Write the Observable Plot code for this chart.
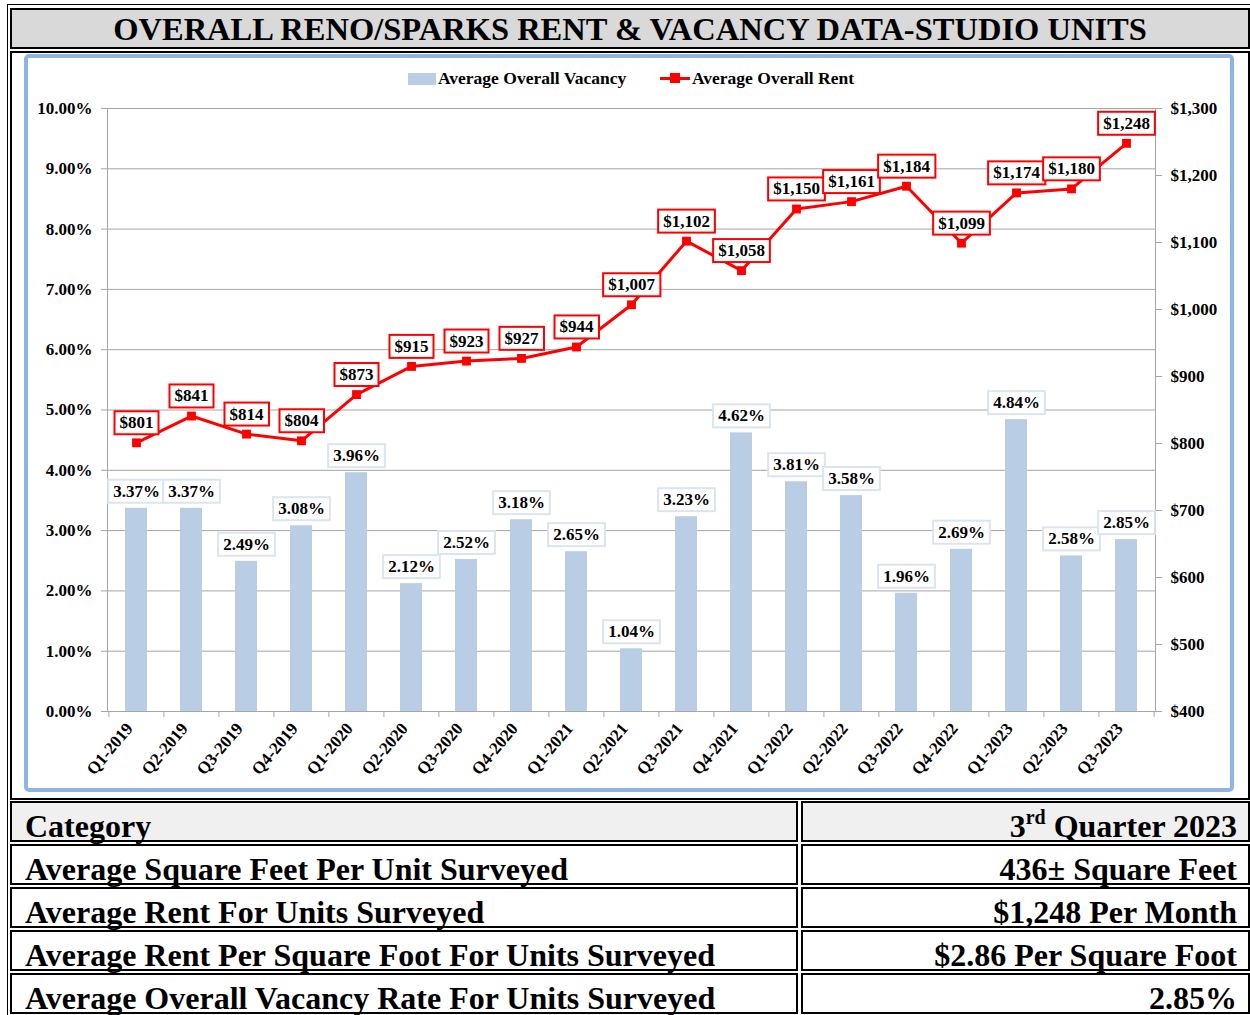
<!DOCTYPE html>
<html><head><meta charset="utf-8">
<script src="https://cdn.jsdelivr.net/npm/d3@7"></script>
<script src="https://cdn.jsdelivr.net/npm/@observablehq/plot@0.6"></script>
<style>
body{margin:0;background:#fff;font-family:"Liberation Serif","Times New Roman",serif;font-weight:bold;color:#000;}
.abs{position:absolute;box-sizing:border-box;}
#table{display:grid;grid-template-columns:788px 449px;column-gap:3px;row-gap:2px;}
#table div{box-sizing:border-box;height:41px;border:2.5px solid #000;font-size:32px;line-height:32px;padding-top:6.5px;white-space:nowrap;}
#table .l{padding-left:13px;text-align:left;}
#table .r{padding-right:11px;text-align:right;}
#table .h{background:#f0f0f0;}
sup{font-size:20px;vertical-align:top;line-height:20px;position:relative;top:-3px;}
</style></head><body>
<div class="abs" style="left:7px;top:4px;width:1250px;height:1020px;border:1px solid #000;"></div>
<div class="abs" id="title" style="left:10px;top:8px;width:1240px;height:41px;border:2.5px solid #000;background:#d9d9d9;text-align:center;font-size:32.5px;line-height:38px;white-space:nowrap;"></div>
<div class="abs" style="left:10px;top:51px;width:1240px;height:749px;border:2.5px solid #000;"></div>
<div class="abs" style="left:24px;top:54px;width:1210px;height:738px;border:4px solid #8db4e2;border-radius:5px;"></div>
<div id="legend"></div>
<div class="abs" id="chart" style="left:0;top:0;"></div>
<div class="abs" id="table" style="left:10px;top:801px;"></div>
<script>
const titleText = "OVERALL RENO/SPARKS RENT & VACANCY DATA-STUDIO UNITS";
const quarters = ["Q1-2019","Q2-2019","Q3-2019","Q4-2019","Q1-2020","Q2-2020","Q3-2020","Q4-2020","Q1-2021","Q2-2021","Q3-2021","Q4-2021","Q1-2022","Q2-2022","Q3-2022","Q4-2022","Q1-2023","Q2-2023","Q3-2023"];
const vacancy = [3.37,3.37,2.49,3.08,3.96,2.12,2.52,3.18,2.65,1.04,3.23,4.62,3.81,3.58,1.96,2.69,4.84,2.58,2.85];
const rent = [801,841,814,804,873,915,923,927,944,1007,1102,1058,1150,1161,1184,1099,1174,1180,1248];
const vacancyTicks = [0,1,2,3,4,5,6,7,8,9,10];
const rentTicks = [400,500,600,700,800,900,1000,1100,1200,1300];
const seriesNames = ["Average Overall Vacancy","Average Overall Rent"];
const tableCategories = ["Average Square Feet Per Unit Surveyed","Average Rent For Units Surveyed","Average Rent Per Square Foot For Units Surveyed","Average Overall Vacancy Rate For Units Surveyed"];
const tableValues = ["436\u00b1 Square Feet","$1,248 Per Month","$2.86 Per Square Foot","2.85%"];

const barColor = "#b9cde5", lineColor = "#ff0000", gridColor = "#a6a6a6";
document.getElementById("title").textContent = titleText;

// legend
const lg = document.getElementById("legend");
lg.innerHTML = `
<div class="abs" style="left:408px;top:73px;width:28px;height:12px;background:${barColor}"></div>
<div class="abs" style="left:438px;top:68px;font-size:17.5px;white-space:nowrap">${seriesNames[0]}</div>
<div class="abs" style="left:660px;top:77px;width:30px;height:3px;background:${lineColor}"></div>
<div class="abs" style="left:670px;top:73px;width:10px;height:10px;background:${lineColor}"></div>
<div class="abs" style="left:692px;top:68px;font-size:17.5px;white-space:nowrap">${seriesNames[1]}</div>`;

// table
const tb = document.getElementById("table");
let html = `<div class="l h">Category</div><div class="r h">3<sup>rd</sup> Quarter 2023</div>`;
tableCategories.forEach((c,i)=>{ html += `<div class="l">${c}</div><div class="r">${tableValues[i]}</div>`; });
tb.innerHTML = html;

const rMin = rentTicks[0], rMax = rentTicks[rentTicks.length-1];
const vMax = vacancyTicks[vacancyTicks.length-1];
const toY = r => (r - rMin) / (rMax - rMin) * vMax;
const fromY = v => v / vMax * (rMax - rMin) + rMin;
const data = quarters.map((q,i)=>({q, vac: vacancy[i], rent: rent[i], ry: toY(rent[i])}));

const W = 1250, H = 790, mL = 107, mR = 95, mT = 108, mB = 79;
const step = (W - mL - mR) / quarters.length;
const fmtMoney = d3.format(",");

const plot = Plot.plot({
  width: W, height: H,
  marginLeft: mL, marginRight: mR, marginTop: mT, marginBottom: mB,
  style: {background: "transparent", fontFamily: "'Liberation Serif', serif", fontWeight: "bold", fontSize: "17px", color: "#000"},
  x: {domain: quarters, paddingInner: 0.6, paddingOuter: 0.3, label: null},
  y: {domain: [0, vMax], label: null},
  marks: [
    Plot.gridY(vacancyTicks, {stroke: gridColor, strokeOpacity: 1}),
    Plot.barY(data, {x: "q", y: "vac", fill: barColor}),
    Plot.frame({stroke: gridColor}),
    Plot.ruleX(quarters, {x: d => d, y1: 0, y2: -0.1, dx: -step/2, stroke: gridColor}),
    Plot.ruleX(quarters.slice(-1), {x: d => d, y1: 0, y2: -0.1, dx: step/2, stroke: gridColor}),
    Plot.axisY(vacancyTicks, {anchor: "left", tickFormat: d => d.toFixed(2) + "%", tickSize: 6, tickPadding: 9, stroke: gridColor, fill: "#000", fontSize: 17, label: null}),
    Plot.axisY(rentTicks.map(toY), {anchor: "right", tickFormat: d => "$" + fmtMoney(Math.round(fromY(d))), tickSize: 6, tickPadding: 9, stroke: gridColor, fill: "#000", fontSize: 17, label: null}),
    Plot.axisX({tickRotate: -50, tickSize: 0, tickPadding: 14, dx: -7, fontSize: 17, fill: "#000", label: null}),
    Plot.line(data, {x: "q", y: "ry", stroke: lineColor, strokeWidth: 3}),
    Plot.dot(data, {x: "q", y: "ry", symbol: "square", r: 5, fill: lineColor}),
    Plot.text(data, {x: "q", y: "vac", text: d => d.vac.toFixed(2) + "%", dy: -17, fontSize: 17, fontWeight: "bold", fill: "#000", className: "vaclab"}),
    Plot.text(data, {x: "q", y: "ry", text: d => "$" + fmtMoney(d.rent), dy: -20, fontSize: 17, fontWeight: "bold", fill: "#000", className: "rentlab"})
  ]
});
document.getElementById("chart").appendChild(plot);

function boxLabels(cls, stroke, padX, padY) {
  plot.querySelectorAll(`.${cls} text`).forEach(t => {
    const b = t.getBBox();
    const ns = "http://www.w3.org/2000/svg";
    const r = document.createElementNS(ns, "rect");
    r.setAttribute("x", b.x - padX); r.setAttribute("y", b.y - padY);
    r.setAttribute("width", b.width + 2*padX); r.setAttribute("height", b.height + 2*padY);
    r.setAttribute("fill", "#fff"); r.setAttribute("stroke", stroke); r.setAttribute("stroke-width", 2);
    const tr = t.getAttribute("transform");
    if (tr) r.setAttribute("transform", tr);
    t.parentNode.insertBefore(r, t);
  });
}
boxLabels("vaclab", "#dbe5f1", 5, 2);
boxLabels("rentlab", "#ff0000", 5, 2);
</script>
</body></html>
